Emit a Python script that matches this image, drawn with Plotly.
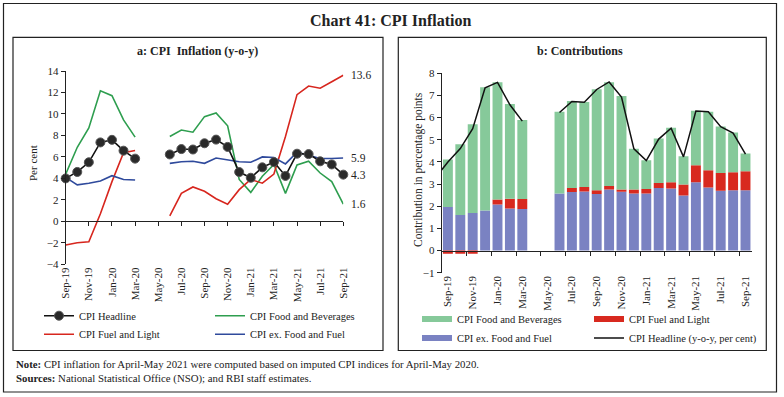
import plotly.graph_objects as go

# ---------------- data ----------------
months = ["Sep-19", "Oct-19", "Nov-19", "Dec-19", "Jan-20", "Feb-20", "Mar-20", "Apr-20",
          "May-20", "Jun-20", "Jul-20", "Aug-20", "Sep-20", "Oct-20", "Nov-20", "Dec-20",
          "Jan-21", "Feb-21", "Mar-21", "Apr-21", "May-21", "Jun-21", "Jul-21", "Aug-21", "Sep-21"]
tick_labels = ["Sep-19", "Nov-19", "Jan-20", "Mar-20", "May-20", "Jul-20", "Sep-20",
               "Nov-20", "Jan-21", "Mar-21", "May-21", "Jul-21", "Sep-21"]

# Panel a: y-o-y inflation (per cent)
headline = [4.0, 4.6, 5.5, 7.35, 7.59, 6.58, 5.84, None, None, 6.23, 6.73, 6.69, 7.27,
            7.61, 6.93, 4.59, 4.06, 5.03, 5.52, 4.23, 6.30, 6.26, 5.59, 5.30, 4.35]
headline_prev = 3.28  # Aug-19, only the line stub entering panel b
food_bev = [4.4, 6.9, 8.7, 12.15, 11.7, 9.45, 7.84, None, None, 7.9, 8.5, 8.3, 9.75,
            10.1, 8.9, 3.9, 2.7, 4.2, 5.3, 2.6, 5.25, 5.6, 4.5, 3.7, 1.6]
fuel_light = [-2.2, -2.0, -1.9, 0.7, 3.7, 6.4, 6.6, None, None, 0.5, 2.6, 3.2, 2.8,
              2.1, 1.6, 2.95, 3.9, 3.55, 4.4, 7.9, 11.8, 12.6, 12.4, 13.0, 13.6]
core = [4.1, 3.4, 3.55, 3.75, 4.25, 3.9, 3.85, None, None, 5.4, 5.55, 5.6, 5.4,
        5.9, 5.7, 5.55, 5.5, 6.0, 5.95, 5.35, 6.45, 6.15, 5.85, 5.85, 5.9]

# Panel b: contributions (percentage points)
contrib_core = [1.96, 1.6, 1.69, 1.81, 2.08, 1.9, 1.87, None, None, 2.57, 2.64, 2.67, 2.55,
                2.75, 2.65, 2.57, 2.57, 2.82, 2.8, 2.48, 3.08, 2.85, 2.7, 2.72, 2.72]
contrib_fuel = [-0.15, -0.15, -0.15, 0.0, 0.22, 0.44, 0.46, None, None, 0.0, 0.18, 0.2, 0.17,
                0.16, 0.11, 0.18, 0.21, 0.23, 0.28, 0.5, 0.77, 0.77, 0.8, 0.81, 0.86]
contrib_food = [2.15, 3.2, 4.01, 5.56, 5.3, 4.27, 3.56, None, None, 3.69, 3.93, 3.83, 4.56,
                4.69, 4.21, 1.85, 1.3, 2.01, 2.46, 1.28, 2.46, 2.64, 2.1, 1.8, 0.8]

# ---------------- styling ----------------
W, H = 784, 397
FONT = "Liberation Serif"
TXT = "#222222"
GREEN_L, RED_L, BLUE_L = "#2e9e4f", "#d7261e", "#2f4a9c"
GREEN_B, RED_B, BLUE_B = "#86c99a", "#d8291f", "#7a82c2"


def px(x):
    return x / W


def py(y):
    return 1 - y / H


idx = list(range(len(months)))
tickpos = [idx[months.index(t)] for t in tick_labels]

xa = [px(65.7), px(343.3)]
ya = [py(264.3), py(71)]
xb = [px(441.7), px(751.7)]
yb = [py(272.7), py(73.3)]
ra = [-4, 14]
rb = [-1, 8]
zero_a = ya[0] + (0 - ra[0]) / (ra[1] - ra[0]) * (ya[1] - ya[0])
zero_b = yb[0] + (0 - rb[0]) / (rb[1] - rb[0]) * (yb[1] - yb[0])

fig = go.Figure()

# ---- panel a lines ----
fig.add_trace(go.Scatter(x=idx, y=food_bev, mode="lines", name="CPI Food and Beverages",
                         line=dict(color=GREEN_L, width=1.6), xaxis="x", yaxis="y",
                         cliponaxis=False, legend="legend2"))
fig.add_trace(go.Scatter(x=idx, y=fuel_light, mode="lines", name="CPI Fuel and Light",
                         line=dict(color=RED_L, width=1.6), xaxis="x", yaxis="y",
                         cliponaxis=False, legend="legend3"))
fig.add_trace(go.Scatter(x=idx, y=core, mode="lines", name="CPI ex. Food and Fuel",
                         line=dict(color=BLUE_L, width=1.6), xaxis="x", yaxis="y",
                         cliponaxis=False, legend="legend4"))
fig.add_trace(go.Scatter(x=idx, y=headline, mode="lines+markers", name="CPI Headline",
                         line=dict(color="#111111", width=1.6),
                         marker=dict(size=9, color="#2a2a2a", line=dict(color="#555555", width=1)),
                         xaxis="x", yaxis="y", cliponaxis=False, legend="legend"))

# ---- panel b bars ----
fig.add_trace(go.Bar(x=idx, y=contrib_core, marker=dict(color=BLUE_B, line=dict(width=0)),
                     xaxis="x2", yaxis="y2", showlegend=False, name="CPI ex. Food and Fuel"))
fig.add_trace(go.Bar(x=idx, y=contrib_fuel, marker=dict(color=RED_B, line=dict(width=0)),
                     xaxis="x2", yaxis="y2", showlegend=False, name="CPI Fuel and Light"))
fig.add_trace(go.Bar(x=idx, y=contrib_food, marker=dict(color=GREEN_B, line=dict(width=0)),
                     xaxis="x2", yaxis="y2", showlegend=False, name="CPI Food and Beverages"))
fig.add_trace(go.Scatter(x=[idx[0] - 1] + idx, y=[headline_prev] + headline, mode="lines",
                         line=dict(color="#111111", width=1.5), xaxis="x2", yaxis="y2",
                         name="CPI Headline (y-o-y, per cent)", legend="legend8"))

# legend samples for bars (thick line swatches)
for nm, col, lg in [("CPI Food and Beverages", GREEN_B, "legend5"),
                    ("CPI ex. Food and Fuel", BLUE_B, "legend6"),
                    ("CPI Fuel and Light", RED_B, "legend7")]:
    fig.add_trace(go.Scatter(x=[None], y=[None], mode="lines", name=nm,
                             line=dict(color=col, width=6), xaxis="x2", yaxis="y2", legend=lg))

# dummy traces so zero-line axes are drawn
fig.add_trace(go.Scatter(x=[None], y=[None], xaxis="x3", yaxis="y", showlegend=False))
fig.add_trace(go.Scatter(x=[None], y=[None], xaxis="x4", yaxis="y2", showlegend=False))

tickfont = dict(family=FONT, size=11, color=TXT)
common_y = dict(showgrid=False, zeroline=False, showline=True, linecolor="#222", linewidth=1,
                ticks="outside", ticklen=4, tickcolor="#222", tickfont=tickfont, automargin=False)
common_x = dict(showgrid=False, zeroline=False, showline=False, ticks="",
                tickangle=-90, tickfont=tickfont, tickvals=tickpos, ticktext=tick_labels,
                automargin=False)
zero_axis = dict(showgrid=False, zeroline=False, showline=True, linecolor="#222", linewidth=1,
                 ticks="outside", ticklen=4, tickcolor="#222", showticklabels=False,
                 automargin=False)

layout = dict(
    template="none",
    width=W, height=H, margin=dict(l=0, r=0, t=0, b=0, pad=0, autoexpand=False),
    paper_bgcolor="white", plot_bgcolor="white",
    barmode="relative", bargap=0.2, hovermode=False,
    font=dict(family=FONT, color=TXT),
    xaxis=dict(domain=xa, range=[0, 24], anchor="y", **common_x),
    yaxis=dict(domain=ya, range=ra, anchor="x", dtick=2, **common_y),
    xaxis2=dict(domain=xb, range=[-0.5, 24.5], anchor="y2", **common_x),
    yaxis2=dict(domain=yb, range=rb, anchor="x2", dtick=1, **common_y),
    xaxis3=dict(overlaying="x", anchor="free", position=zero_a, range=[0, 24],
                tickvals=tickpos, **zero_axis),
    xaxis4=dict(overlaying="x2", anchor="free", position=zero_b, range=[-0.5, 24.5],
                tickvals=[p - 0.5 for p in tickpos], **zero_axis),
)

legend_pos = {
    "legend": (39, 315.7), "legend2": (210, 315.7),
    "legend3": (39, 334.3), "legend4": (210, 334.3),
    "legend5": (417, 319), "legend6": (417, 338),
    "legend7": (589, 319), "legend8": (589, 338),
}
for k, (lx, ly) in legend_pos.items():
    layout[k] = dict(x=px(lx), y=py(ly), xanchor="left", yanchor="middle",
                     bgcolor="rgba(0,0,0,0)", borderwidth=0, itemwidth=30,
                     font=dict(family=FONT, size=10.5, color=TXT))

fig.update_layout(**layout)

# borders
fig.add_shape(type="rect", xref="paper", yref="paper", x0=px(3.5), x1=px(776.5), y0=py(392), y1=py(3.5),
              line=dict(color="#222", width=1.2))
for x0, x1 in [(13, 383), (398.3, 766.3)]:
    fig.add_shape(type="rect", xref="paper", yref="paper", x0=px(x0), x1=px(x1),
                  y0=py(350.5), y1=py(37.3), line=dict(color="#222", width=1.2))


def note(text, x, y, size, xanchor="center", angle=0):
    return dict(text=text, x=px(x), y=py(y), xref="paper", yref="paper", xanchor=xanchor,
                yanchor="middle", textangle=angle, showarrow=False,
                font=dict(family=FONT, size=size, color=TXT))


ann = [
    note("<b>Chart 41: CPI Inflation</b>", 390, 20, 16),
    note("<b>a: CPI\u00a0 Inflation (y-o-y)</b>", 198, 51.5, 12),
    note("<b>b: Contributions</b>", 580, 51.5, 12),
    note("Per cent", 33, 163, 11, angle=-90),
    note("Contribution in percentage points", 418, 170, 11.5, angle=-90),
    note("<b>Note:</b> CPI inflation for April-May 2021 were computed based on imputed CPI indices for April-May 2020.",
         14, 364, 10.8, xanchor="left"),
    note("<b>Sources:</b> National Statistical Office (NSO); and RBI staff estimates.",
         14, 378, 10.8, xanchor="left"),
]
for series in [fuel_light, core, headline, food_bev]:
    ann.append(dict(text=f"{series[-1]:.1f}", x=idx[-1], y=series[-1], xref="x", yref="y",
                    xanchor="left", yanchor="middle", xshift=6, showarrow=False,
                    font=dict(family=FONT, size=11.5, color=TXT)))
fig.update_layout(annotations=ann)

fig.write_html("out.html", config={"displayModeBar": False, "staticPlot": True},
               post_script="document.body.style.margin='0';document.body.style.overflow='hidden';")
